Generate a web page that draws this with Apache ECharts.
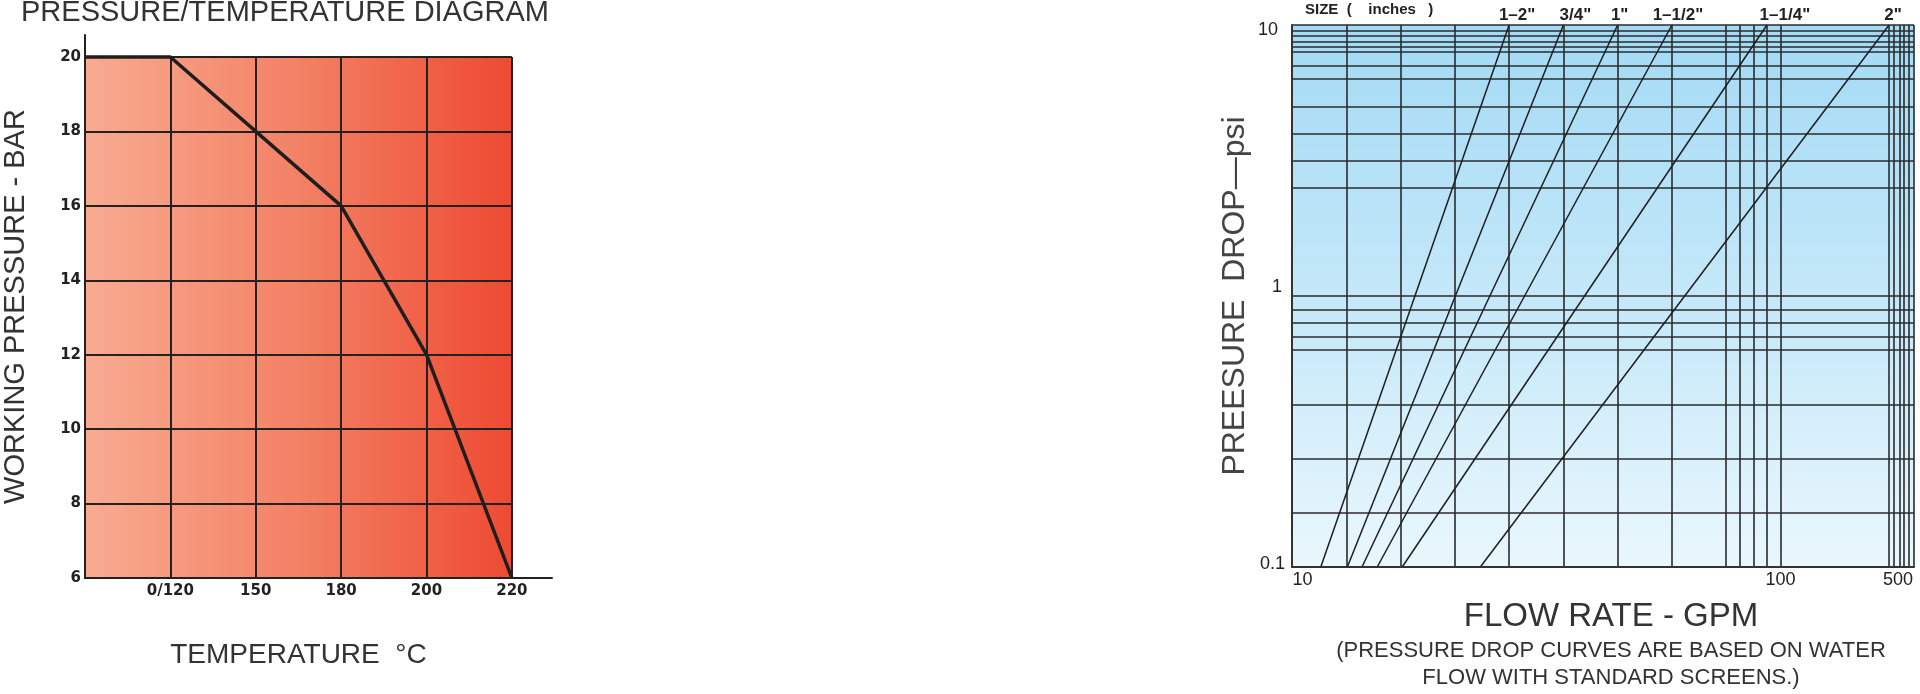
<!DOCTYPE html>
<html>
<head>
<meta charset="utf-8">
<title>Pressure / temperature diagram and pressure drop chart</title>
<script src="https://cdn.jsdelivr.net/npm/echarts@6/dist/echarts.min.js"></script>
<style>
  html, body { margin: 0; padding: 0; background: #fff; }
  #chart { width: 1920px; height: 694px; }
</style>
</head>
<body>
<div id="chart"></div>
<script>
// ---- pressure / temperature diagram (left) ----
// x is the grid column: 0 = left edge, 1..5 carry the temperature labels
const tempColumns = [0, 1, 2, 3, 4, 5];
const tempLabels = ['', '0/120', '150', '180', '200', '220'];
const ratedPressure = [20, 20, 18, 16, 12, 6];
const pressureTicks = [6, 8, 10, 12, 14, 16, 18, 20];

// ---- pressure drop chart (right) ----
// flow axis drawn in grid steps: 10 GPM at step 0, 100 at step 9, 500 at the right edge
const flowTickPos = [0, 9, 11.46];
const flowTickText = ['10', '100', '500'];
const flowGridPos = [1, 2, 3, 4, 5, 6, 7, 8, 8.25, 8.5, 8.75, 9, 11, 11.09, 11.19, 11.28, 11.37, 11.46];
const dropGridVals = [10, 9.55, 9.12, 8.71, 8.32, 7.94, 7.08, 6.31, 5.01, 3.98, 3.16, 2.51,
  1, 0.891, 0.794, 0.708, 0.631, 0.398, 0.251, 0.158];
const sizeNames = ['1\u20132"', '3/4"', '1"', '1\u20131/2"', '1\u20131/4"', '2"'];
const sizeFlowLow = [0.53, 1.02, 1.29, 1.57, 2.03, 3.47];   // where each size meets 0.1 psi
const sizeFlowHigh = [4, 5, 6, 7, 8.75, 11];                // where each size meets 10 psi
const sizeLabelShift = [8, 12, 2, 6, 18, 4];

const dropMin = 0.1;
const dropMax = 10;
const flowEnd = flowTickPos[flowTickPos.length - 1];

const chart = echarts.init(document.getElementById('chart'), null, { renderer: 'canvas' });

const gridLine = { color: '#222', width: 2, type: 'solid' };
const thinLine = { color: '#2b2b2b', width: 1.6, type: 'solid' };

// grid lines of the left chart
const leftLines = [];
pressureTicks.slice(1).forEach(v => {
  leftLines.push([{ coord: [tempColumns[0], v] }, { coord: [tempColumns[tempColumns.length - 1], v] }]);
});
tempColumns.slice(1).forEach(c => {
  leftLines.push([{ coord: [c, pressureTicks[0]] }, { coord: [c, pressureTicks[pressureTicks.length - 1]] }]);
});

// grid lines of the right chart
const rightLines = [];
dropGridVals.forEach(v => {
  rightLines.push([{ coord: [0, v] }, { coord: [flowEnd, v] }]);
});
flowGridPos.forEach(p => {
  rightLines.push([{ coord: [p, dropMin] }, { coord: [p, dropMax] }]);
});

const sizeSeries = sizeNames.map((name, i) => ({
  name: name,
  type: 'line',
  xAxisIndex: 1,
  yAxisIndex: 1,
  z: 4,
  symbol: 'circle',
  symbolSize: 1,
  showSymbol: true,
  silent: true,
  itemStyle: { color: 'rgba(0,0,0,0)' },
  lineStyle: { color: '#1e1e1e', width: 1.5 },
  data: [
    [sizeFlowLow[i], dropMin],
    {
      value: [sizeFlowHigh[i], dropMax],
      label: {
        show: true,
        position: 'top',
        distance: 1,
        offset: [sizeLabelShift[i], 0],
        formatter: name,
        fontFamily: 'Liberation Sans',
        fontWeight: 'bold',
        fontSize: 17,
        color: '#222'
      }
    }
  ]
}));

const option = {
  animation: false,
  textStyle: { fontFamily: 'Liberation Sans' },
  grid: [
    { left: 84, top: 35, width: 468, height: 543 },
    { left: 1292, top: 25, width: 622, height: 542 }
  ],
  xAxis: [
    {
      gridIndex: 0,
      type: 'value',
      min: 0,
      max: 5.47,
      z: 6,
      axisLine: { lineStyle: { color: '#222', width: 2 } },
      axisTick: { show: false },
      splitLine: { show: false },
      axisLabel: {
        customValues: tempColumns.slice(1),
        formatter: v => tempLabels[Math.round(v)],
        fontFamily: 'DejaVu Sans',
        fontWeight: 'bold',
        fontSize: 15,
        color: '#222',
        margin: 6
      },
      name: 'TEMPERATURE  \u00b0C',
      nameLocation: 'middle',
      nameGap: 63,
      nameTextStyle: { fontSize: 28, color: '#333', padding: [0, 40, 0, 0] }
    },
    {
      gridIndex: 1,
      type: 'value',
      min: 0,
      max: flowEnd,
      z: 6,
      axisLine: { lineStyle: { color: '#333', width: 2 } },
      axisTick: { show: false },
      splitLine: { show: false },
      axisLabel: {
        customValues: flowTickPos,
        formatter: v => {
          const i = flowTickPos.findIndex(p => Math.abs(p - v) < 0.01);
          const tag = i === 0 ? 'l' : (i === flowTickPos.length - 1 ? 'r' : 'm');
          return '{' + tag + '|' + flowTickText[i] + '}';
        },
        rich: {
          l: { fontSize: 18, color: '#222', padding: [0, 0, 0, 21] },
          m: { fontSize: 18, color: '#222' },
          r: { fontSize: 18, color: '#222', padding: [0, 32, 0, 0] }
        },
        margin: 4
      },
      name: 'FLOW RATE - GPM',
      nameLocation: 'middle',
      nameGap: 33,
      nameTextStyle: { fontSize: 33, color: '#333', padding: [0, 0, 0, 16] }
    }
  ],
  yAxis: [
    {
      gridIndex: 0,
      type: 'value',
      min: 6,
      max: 20.59,
      z: 6,
      axisLine: { show: true, lineStyle: { color: '#222', width: 2 } },
      axisTick: { show: false },
      splitLine: { show: false },
      axisLabel: {
        customValues: pressureTicks,
        fontFamily: 'DejaVu Sans',
        fontWeight: 'bold',
        fontSize: 15,
        color: '#222',
        margin: 4
      },
      name: 'WORKING PRESSURE - BAR',
      nameLocation: 'middle',
      nameGap: 55,
      nameTextStyle: { fontSize: 29, color: '#333' }
    },
    {
      gridIndex: 1,
      type: 'log',
      logBase: 10,
      min: dropMin,
      max: dropMax,
      z: 6,
      axisLine: { show: true, lineStyle: { color: '#333', width: 2 } },
      axisTick: { show: false },
      splitLine: { show: false },
      axisLabel: {
        formatter: v => (v < 0.5 ? '{lo|0.1}' : (v < 5 ? '{mid|1}' : '{hi|10}')),
        rich: {
          hi: { fontSize: 18, color: '#222', padding: [10, 7, 0, 0] },
          mid: { fontSize: 18, color: '#222', padding: [0, 3, 18, 0] },
          lo: { fontSize: 18, color: '#222', padding: [0, 0, 6, 0] }
        },
        margin: 7
      },
      name: 'PREESURE  DROP\u2014psi',
      nameLocation: 'middle',
      nameGap: 41,
      nameTextStyle: { fontSize: 32, color: '#444' }
    }
  ],
  graphic: [
    {
      type: 'text',
      style: {
        text: 'PRESSURE/TEMPERATURE DIAGRAM',
        x: 21, y: 13,
        verticalAlign: 'middle',
        font: '29px "Liberation Sans"',
        fill: '#333'
      }
    },
    {
      type: 'text',
      style: {
        text: 'SIZE  (    inches   )',
        x: 1305, y: 9.5,
        verticalAlign: 'middle',
        font: 'bold 15px "Liberation Sans"',
        fill: '#222'
      }
    },
    {
      type: 'text',
      style: {
        text: 'Cv',
        x: 1302, y: 287,
        verticalAlign: 'middle',
        font: '18px "Liberation Sans"',
        fill: '#222'
      }
    },
    {
      type: 'text',
      style: {
        text: '(PRESSURE DROP CURVES ARE BASED ON WATER\nFLOW WITH STANDARD SCREENS.)',
        x: 1611, y: 664,
        align: 'center',
        verticalAlign: 'middle',
        lineHeight: 27,
        font: '22px "Liberation Sans"',
        fill: '#333'
      }
    }
  ],
  series: [
    {
      name: 'left frame',
      type: 'line',
      xAxisIndex: 0,
      yAxisIndex: 0,
      z: 1,
      silent: true,
      data: [],
      markArea: {
        silent: true,
        z: 1,
        itemStyle: {
          color: {
            type: 'linear', x: 0, y: 0, x2: 1, y2: 0,
            colorStops: [
              { offset: 0, color: '#f8ab91' },
              { offset: 0.5, color: '#f38165' },
              { offset: 1, color: '#ee4a32' }
            ]
          }
        },
        data: [[
          { coord: [tempColumns[0], pressureTicks[0]] },
          { coord: [tempColumns[tempColumns.length - 1], pressureTicks[pressureTicks.length - 1]] }
        ]]
      },
      markLine: {
        silent: true,
        z: 2,
        symbol: ['none', 'none'],
        label: { show: false },
        lineStyle: gridLine,
        data: leftLines
      }
    },
    {
      name: 'working pressure',
      type: 'line',
      xAxisIndex: 0,
      yAxisIndex: 0,
      z: 4,
      symbol: 'none',
      silent: true,
      lineStyle: { color: '#1e1e1e', width: 3.5 },
      data: tempColumns.map((c, i) => [c, ratedPressure[i]])
    },
    {
      name: 'right frame',
      type: 'line',
      xAxisIndex: 1,
      yAxisIndex: 1,
      z: 1,
      silent: true,
      data: [],
      markArea: {
        silent: true,
        z: 1,
        itemStyle: {
          color: {
            type: 'linear', x: 0, y: 0, x2: 0, y2: 1,
            colorStops: [
              { offset: 0, color: '#a3daf5' },
              { offset: 0.5, color: '#c4e8f9' },
              { offset: 1, color: '#e9f7fd' }
            ]
          }
        },
        data: [[
          { coord: [0, dropMin] },
          { coord: [flowEnd, dropMax] }
        ]]
      },
      markLine: {
        silent: true,
        z: 2,
        symbol: ['none', 'none'],
        label: { show: false },
        lineStyle: thinLine,
        data: rightLines
      }
    }
  ].concat(sizeSeries)
};

chart.setOption(option);
window.addEventListener('resize', () => chart.resize());
</script>
</body>
</html>
